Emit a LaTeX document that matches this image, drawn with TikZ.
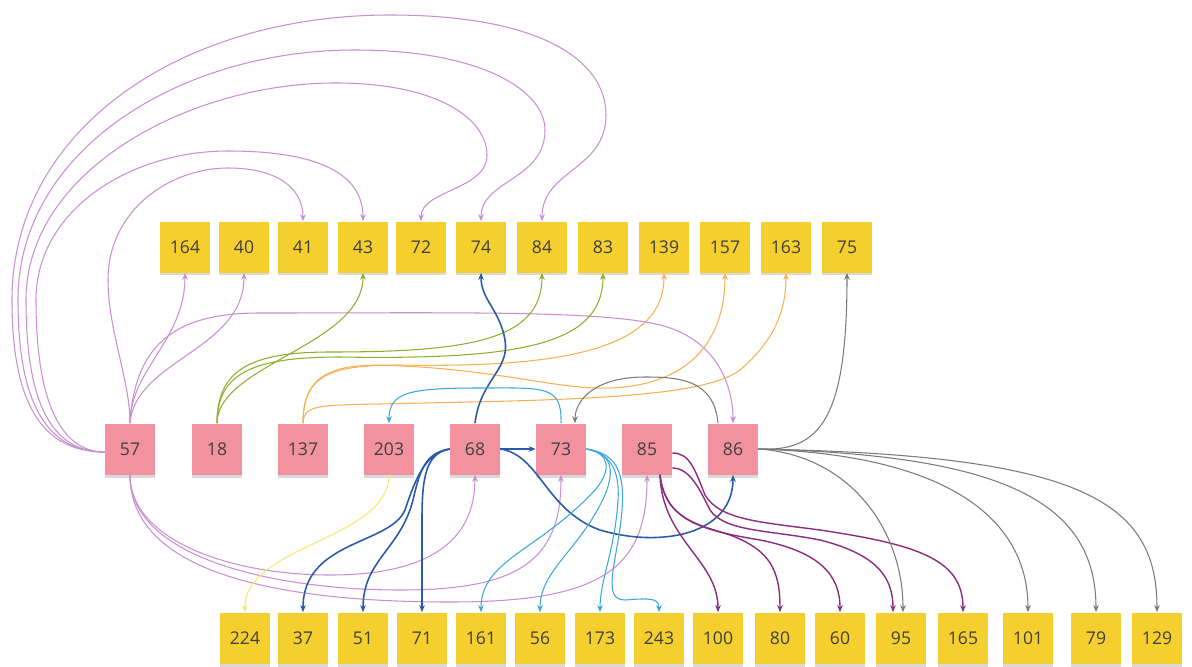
\documentclass[tikz,border=0pt]{standalone}
\usepackage{fontspec}
\setmainfont{Open Sans}
\usepackage{xcolor}
\usetikzlibrary{arrows.meta,shadows}

\definecolor{noteyellow}{HTML}{F4CF2E}
\definecolor{notepink}{HTML}{F1929E}
\definecolor{lilac}{HTML}{C98FD2}
\definecolor{olive}{HTML}{8CAE2E}
\definecolor{apricot}{HTML}{F7B154}
\definecolor{navy}{HTML}{2A5BAA}
\definecolor{sky}{HTML}{3BA7DB}
\definecolor{slate}{HTML}{7A7A7A}
\definecolor{plum}{HTML}{8C2C7E}
\definecolor{lemon}{HTML}{F2EA6E}

\begin{document}
\begin{tikzpicture}[
    x=0.02cm, y=-0.02cm,
    note/.style={rectangle, minimum width=1cm, minimum height=1.02cm, inner sep=0pt,
        font=\fontsize{10}{12}\selectfont, text=black!75,
        drop shadow={shadow xshift=0pt, shadow yshift=-0.06cm, opacity=0.3}},
    ynote/.style={note, fill=noteyellow},
    pnote/.style={note, fill=notepink},
    link/.style={-{Stealth[length=4pt,width=3.2pt]}, line width=0.6pt},
    lilaclink/.style={link, lilac},
    olivelink/.style={link, olive},
    apricotlink/.style={link, apricot},
    navylink/.style={link, navy, line width=0.9pt},
    skylink/.style={link, sky},
    slatelink/.style={link, slate},
    plumlink/.style={link, plum, line width=0.8pt},
    lemonlink/.style={link, lemon}
]
    \useasboundingbox (0,0) rectangle (1192,666);

    % Top row
    \node[ynote] (t164) at (185,247) {164};
    \node[ynote] (t40)  at (244,247) {40};
    \node[ynote] (t41)  at (303,247) {41};
    \node[ynote] (t43)  at (363,247) {43};
    \node[ynote] (t72)  at (421,247) {72};
    \node[ynote] (t74)  at (481,247) {74};
    \node[ynote] (t84)  at (542,247) {84};
    \node[ynote] (t83)  at (603,247) {83};
    \node[ynote] (t139) at (664,247) {139};
    \node[ynote] (t157) at (725,247) {157};
    \node[ynote] (t163) at (786,247) {163};
    \node[ynote] (t75)  at (847,247) {75};

    % Middle row
    \node[pnote] (m57)  at (130,449) {57};
    \node[pnote] (m18)  at (217,449) {18};
    \node[pnote] (m137) at (303,449) {137};
    \node[pnote] (m203) at (389,449) {203};
    \node[pnote] (m68)  at (475,449) {68};
    \node[pnote] (m73)  at (561,449) {73};
    \node[pnote] (m85)  at (647,449) {85};
    \node[pnote] (m86)  at (733,449) {86};

    % Bottom row
    \node[ynote] (b224) at (245,638) {224};
    \node[ynote] (b37)  at (303,638) {37};
    \node[ynote] (b51)  at (363,638) {51};
    \node[ynote] (b71)  at (422,638) {71};
    \node[ynote] (b161) at (481,638) {161};
    \node[ynote] (b56)  at (540,638) {56};
    \node[ynote] (b173) at (600,638) {173};
    \node[ynote] (b243) at (659,638) {243};
    \node[ynote] (b100) at (718,638) {100};
    \node[ynote] (b80)  at (780,638) {80};
    \node[ynote] (b60)  at (840,638) {60};
    \node[ynote] (b95)  at (901,638) {95};
    \node[ynote] (b165) at (963,638) {165};
    \node[ynote] (b101) at (1028,638) {101};
    \node[ynote] (b79)  at (1096,638) {79};
    \node[ynote] (b129) at (1157,638) {129};

    % 57: big loops over the top
    \draw[lilaclink] ([yshift=-0.06cm]m57.west) .. controls (40,452) and (12,400) .. (12,300)
        .. controls (12,130) and (180,15) .. (390,15) .. controls (540,15) and (606,60) .. (606,115)
        .. controls (606,170) and (542,170) .. (t84.north);
    \draw[lilaclink] ([yshift=-0.06cm]m57.west) .. controls (45,452) and (18,400) .. (18,300)
        .. controls (18,150) and (180,50) .. (355,50) .. controls (480,50) and (545,90) .. (545,130)
        .. controls (545,180) and (481,180) .. (t74.north);
    \draw[lilaclink] ([yshift=-0.06cm]m57.west) .. controls (50,452) and (26,400) .. (26,300)
        .. controls (26,170) and (190,83) .. (335,83) .. controls (440,83) and (487,120) .. (487,155)
        .. controls (487,190) and (421,190) .. (t72.north);
    \draw[lilaclink] ([yshift=-0.06cm]m57.west) .. controls (60,452) and (36,400) .. (36,300)
        .. controls (36,210) and (130,151) .. (228,151) .. controls (330,151) and (363,180) .. (t43.north);
    \draw[lilaclink] (m57.north) .. controls (130,380) and (108,330) .. (108,280)
        .. controls (108,210) and (170,168) .. (228,168) .. controls (280,168) and (303,190) .. (t41.north);

    % 57: up to the top row and across to 86
    \draw[lilaclink] (m57.north) .. controls (130,370) and (185,340) .. (t164.south);
    \draw[lilaclink] (m57.north) .. controls (135,360) and (244,350) .. (t40.south);
    \draw[lilaclink] (m57.north) .. controls (135,340) and (180,313) .. (260,313)
        .. controls (450,313) and (600,310) .. (660,325) .. controls (720,340) and (733,390) .. (m86.north);

    % 57: under the middle row
    \draw[lilaclink] (m57.south) .. controls (130,540) and (230,575) .. (330,575)
        .. controls (430,575) and (475,540) .. (m68.south);
    \draw[lilaclink] (m57.south) .. controls (130,560) and (280,590) .. (400,590)
        .. controls (520,590) and (561,560) .. (m73.south);
    \draw[lilaclink] (m57.south) .. controls (130,580) and (300,602) .. (450,602)
        .. controls (600,602) and (647,570) .. (m85.south);

    % 18
    \draw[olivelink] (m18.north) .. controls (217,365) and (363,345) .. (t43.south);
    \draw[olivelink] (m18.north) .. controls (217,370) and (250,352) .. (330,352)
        .. controls (470,352) and (542,340) .. (t84.south);
    \draw[olivelink] (m18.north) .. controls (217,372) and (255,357) .. (340,357)
        .. controls (520,360) and (603,345) .. (t83.south);

    % 137
    \draw[apricotlink] (m137.north) .. controls (303,375) and (330,365) .. (400,365)
        .. controls (560,368) and (664,350) .. (t139.south);
    \draw[apricotlink] (m137.north) .. controls (303,372) and (335,362) .. (400,366)
        .. controls (500,370) and (560,390) .. (610,388) .. controls (690,385) and (725,340) .. (t157.south);
    \draw[apricotlink] (m137.north) .. controls (303,405) and (320,405) .. (380,404)
        .. controls (550,400) and (700,400) .. (740,370) .. controls (775,340) and (786,310) .. (t163.south);

    % 203
    \draw[lemonlink] (m203.south) .. controls (389,540) and (244,545) .. (b224.north);

    % 68
    \draw[navylink] (m68.north) .. controls (480,380) and (510,370) .. (505,340)
        .. controls (500,310) and (481,300) .. (t74.south);
    \draw[navylink] (m68.west) .. controls (425,453) and (422,480) .. (422,520) -- (b71.north);
    \draw[navylink] (m68.west) .. controls (425,453) and (420,470) .. (413,500)
        .. controls (400,550) and (363,560) .. (b51.north);
    \draw[navylink] (m68.west) .. controls (425,453) and (415,480) .. (405,510)
        .. controls (390,545) and (303,540) .. (b37.north);
    \draw[navylink] (m68.east) -- (m73.west);
    \draw[navylink] (m68.east) .. controls (540,455) and (545,510) .. (600,530)
        .. controls (660,548) and (733,535) .. (m86.south);

    % 73
    \draw[skylink] (m73.north) .. controls (562,385) and (545,388) .. (480,388)
        .. controls (410,388) and (389,392) .. (m203.north);
    \draw[skylink] (m73.east) .. controls (610,453) and (612,470) .. (595,490)
        .. controls (540,550) and (481,560) .. (b161.north);
    \draw[skylink] (m73.east) .. controls (612,453) and (615,470) .. (605,495)
        .. controls (580,550) and (540,570) .. (b56.north);
    \draw[skylink] (m73.east) .. controls (610,453) and (620,470) .. (618,500)
        .. controls (615,550) and (600,580) .. (b173.north);
    \draw[skylink] (m73.east) .. controls (615,453) and (625,470) .. (622,510)
        .. controls (618,560) and (600,600) .. (625,600) .. controls (650,598) and (659,598) .. (b243.north);

    % 85
    \draw[plumlink] ([xshift=0.26cm]m85.south) .. controls (662,540) and (718,560) .. (b100.north);
    \draw[plumlink] ([xshift=0.26cm]m85.south) .. controls (665,520) and (700,525) .. (730,535)
        .. controls (770,550) and (780,570) .. (b80.north);
    \draw[plumlink] ([xshift=0.26cm]m85.south) .. controls (665,520) and (700,530) .. (760,540)
        .. controls (820,552) and (840,575) .. (b60.north);
    \draw[plumlink] ([yshift=-0.08cm]m85.east) .. controls (690,453) and (695,470) .. (705,495)
        .. controls (720,520) and (760,522) .. (820,530) .. controls (920,545) and (963,560) .. (b165.north);
    \draw[plumlink] ([yshift=-0.38cm]m85.east) .. controls (690,468) and (700,490) .. (710,510)
        .. controls (725,532) and (770,530) .. (820,540) .. controls (880,555) and (893,580) .. ([xshift=-0.16cm]b95.north);

    % 86
    \draw[slatelink] ([xshift=-0.3cm]m86.north) .. controls (714,380) and (680,377) .. (645,377)
        .. controls (595,377) and (575,400) .. ([xshift=0.28cm]m73.north);
    \draw[slatelink] (m86.east) .. controls (820,452) and (847,420) .. (t75.south);
    \draw[slatelink] (m86.east) .. controls (850,455) and (903,530) .. ([xshift=0.04cm]b95.north);
    \draw[slatelink] (m86.east) .. controls (950,455) and (1028,520) .. (b101.north);
    \draw[slatelink] (m86.east) .. controls (1000,455) and (1096,500) .. (b79.north);
    \draw[slatelink] (m86.east) .. controls (1080,455) and (1157,500) .. (b129.north);
\end{tikzpicture}
\end{document}
